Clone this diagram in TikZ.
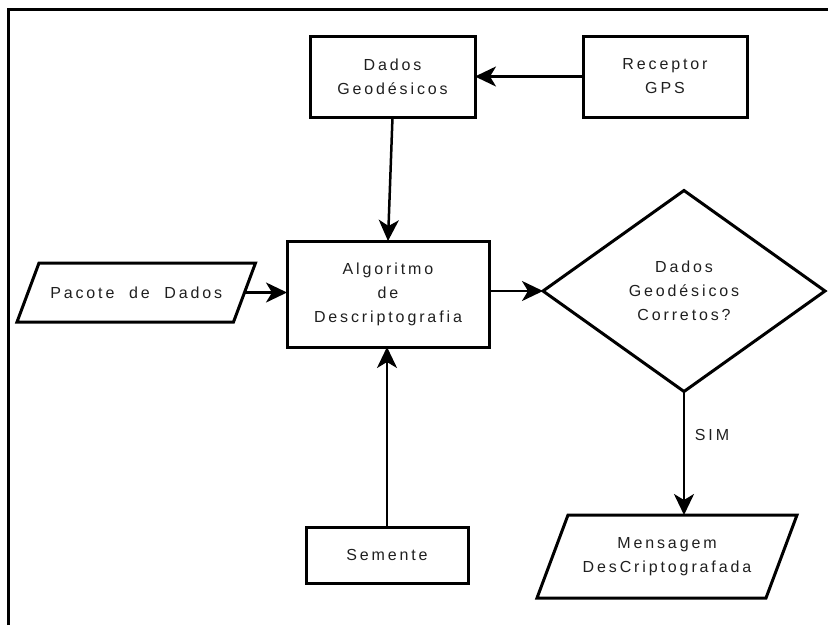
\documentclass[tikz,border=0pt]{standalone}
\usepackage{fontspec}
\setmainfont[LetterSpace=18,WordSpace=2]{Liberation Sans}
\usetikzlibrary{arrows.meta,shapes.geometric,calc}
\begin{document}
\begin{tikzpicture}[x=1pt,y=-1pt,
  every node/.style={font=\fontsize{16}{24}\selectfont, align=center, inner sep=0pt, outer sep=0pt, text=black!88},
  procbox/.style={draw, line width=3pt, rectangle},
  decbox/.style={draw, line width=3pt, diamond},
  iobox/.style={line width=3pt, line join=miter},
  flow/.style={line width=2.5pt, -{Stealth[length=21pt,width=20pt,inset=6pt]}},
  frameline/.style={line width=3.5pt}
]
\useasboundingbox (0,0) rectangle (828,625);
\draw[frameline] (8.3,625) -- (8.3,9.5) -- (828,9.5);

\node[procbox, minimum width=165pt, minimum height=81pt] (dados) at (392.5,76.5) {Dados\\Geodésicos};
\node[procbox, minimum width=164pt, minimum height=81pt] (receptor) at (665,76.5) {Receptor\\GPS};
\node[procbox, minimum width=202pt, minimum height=106pt] (algo) at (388,294) {Algoritmo\\de\\Descriptografia};
\node[procbox, minimum width=162pt, minimum height=56pt] (semente) at (387,555) {Semente};
\node[decbox, minimum width=282pt, minimum height=201pt] (dec) at (684,291) {Dados\\Geodésicos\\Corretos?};

\node[minimum width=216.5pt, minimum height=59pt] (pacote) at (136.25,292.5) {Pacote de Dados};
\draw[iobox] ($(pacote.north west)+(11,0)$) -- ($(pacote.north east)+(11,0)$) -- ($(pacote.south east)+(-11,0)$) -- ($(pacote.south west)+(-11,0)$) -- cycle;

\node[minimum width=229pt, minimum height=83pt] (mens) at (667,556.5) {Mensagem\\DesCriptografada};
\draw[iobox] ($(mens.north west)+(15.5,0)$) -- ($(mens.north east)+(15.5,0)$) -- ($(mens.south east)+(-15.5,0)$) -- ($(mens.south west)+(-15.5,0)$) -- cycle;

\node (sim) at (712,435) {SIM};

\draw[flow] (receptor) -- (dados);
\draw[flow] (dados.south) -- (algo.north);
\draw[flow] (pacote.east) -- (pacote.east -| algo.west);
\draw[flow] (algo.east |- dec.west) -- (dec.west);
\draw[flow] (semente.north) -- (semente.north |- algo.south);
\draw[flow] (dec.south) -- (dec.south |- mens.north);
\end{tikzpicture}
\end{document}
